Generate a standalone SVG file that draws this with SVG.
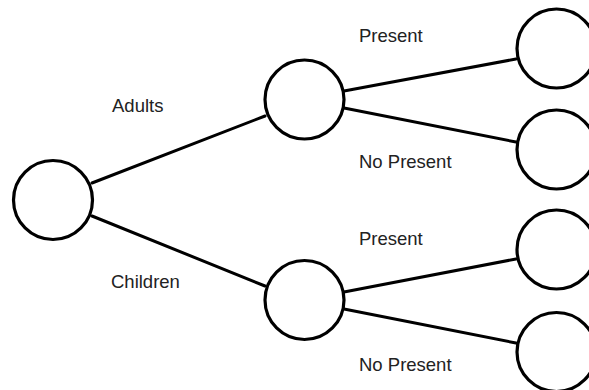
<svg xmlns="http://www.w3.org/2000/svg" width="589" height="390" viewBox="0 0 589 390">
<style>
.node{fill:#fff;stroke:#000;stroke-width:3.2}
.edge{stroke:#000;stroke-width:3;fill:none;stroke-linecap:round}
.lbl{font-family:"Liberation Sans",Arial,sans-serif;font-size:18.5px;fill:#222}
</style>
<rect width="589" height="390" fill="#fff"/>
<g id="connectors">
<line class="edge" x1="92" y1="183" x2="265" y2="116"/>
<line class="edge" x1="92" y1="216" x2="265" y2="286"/>
<line class="edge" x1="344" y1="91" x2="516" y2="59"/>
<line class="edge" x1="344" y1="108" x2="516" y2="142"/>
<line class="edge" x1="344" y1="292" x2="516" y2="259"/>
<line class="edge" x1="344" y1="309" x2="516" y2="343"/>
</g>
<g id="root"><circle class="node" cx="53" cy="200" r="39.5"/></g>
<g id="adults"><circle class="node" cx="304.5" cy="99.5" r="39.5"/></g>
<g id="children"><circle class="node" cx="304.5" cy="300" r="39.5"/></g>
<g id="adults-present"><circle class="node" cx="556.5" cy="48.5" r="39.5"/></g>
<g id="adults-nopresent"><circle class="node" cx="556.5" cy="149.5" r="39.5"/></g>
<g id="children-present"><circle class="node" cx="556.5" cy="249.5" r="39.5"/></g>
<g id="children-nopresent"><circle class="node" cx="556.5" cy="352" r="39.5"/></g>
<g id="labels">
<text class="lbl" x="112" y="112">Adults</text>
<text class="lbl" x="111" y="288">Children</text>
<text class="lbl" x="359" y="42">Present</text>
<text class="lbl" x="359" y="168">No Present</text>
<text class="lbl" x="359" y="245">Present</text>
<text class="lbl" x="359" y="371">No Present</text>
</g>
</svg>
